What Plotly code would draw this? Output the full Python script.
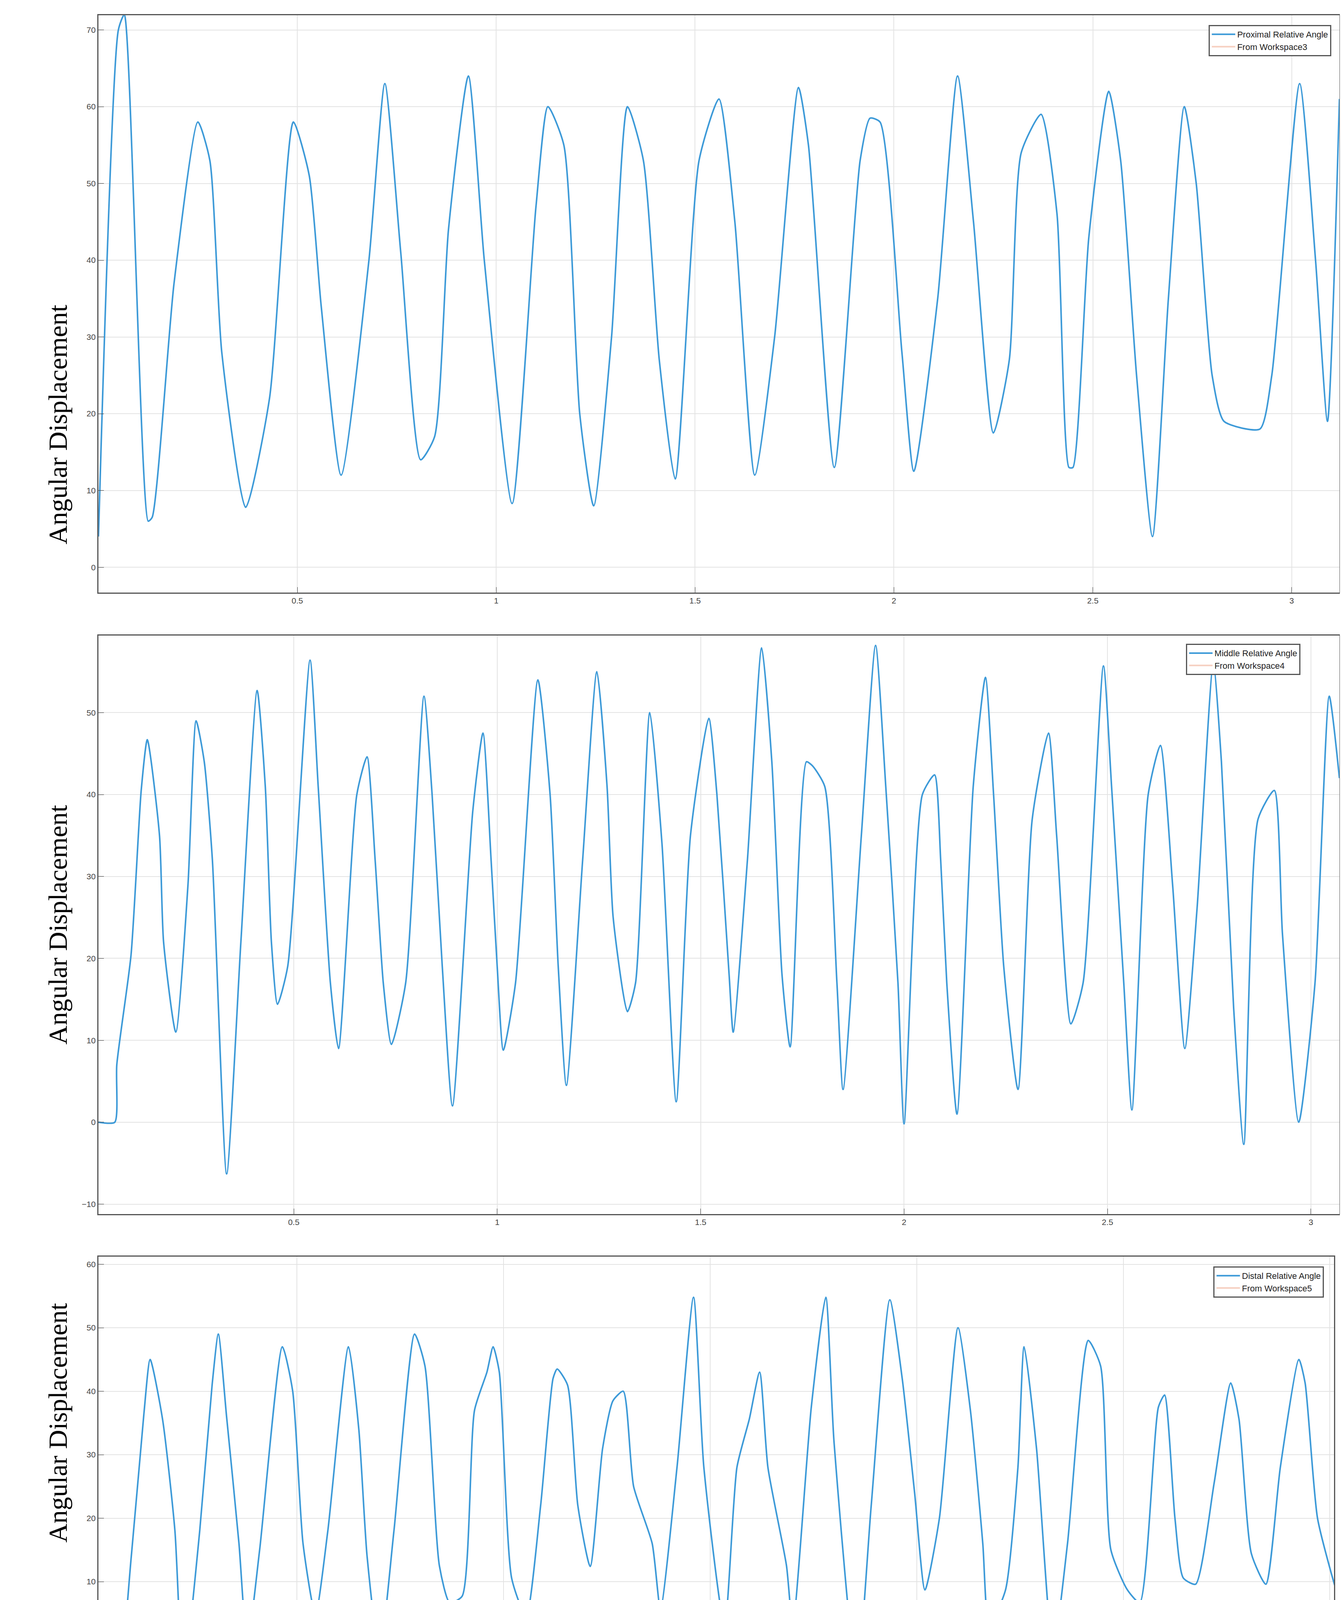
import plotly.graph_objects as go

# Panel 1: Proximal
t1 = [0, 0.05, 0.065, 0.125, 0.135, 0.19, 0.25, 0.28, 0.31, 0.37, 0.43, 0.49, 0.53, 0.56, 0.61, 0.68, 0.72, 0.76, 0.81, 0.845, 0.88, 0.93, 0.97, 1.04, 1.1, 1.13, 1.17, 1.21, 1.245, 1.29, 1.33, 1.37, 1.41, 1.45, 1.51, 1.56, 1.60, 1.65, 1.70, 1.76, 1.785, 1.85, 1.915, 1.94, 1.965, 2.02, 2.05, 2.11, 2.16, 2.20, 2.25, 2.29, 2.32, 2.37, 2.41, 2.44, 2.45, 2.49, 2.54, 2.57, 2.61, 2.65, 2.69, 2.73, 2.76, 2.80, 2.83, 2.92, 2.95, 3.02, 3.06, 3.09, 3.12]
v1 = [4, 70, 72, 6, 6.5, 37, 58, 53, 28, 7.8, 22, 58, 51, 34, 12, 40, 63, 41, 14, 17, 44, 64, 40, 8.3, 47, 60, 55, 20, 8, 30, 60, 53, 27, 11.5, 53, 61, 45, 12, 30, 62.5, 55, 13, 53, 58.5, 58, 28, 12.5, 35, 64, 45, 17.5, 27, 54, 59, 46, 13, 13, 43, 62, 53, 25, 4, 35, 60, 50, 25, 19, 18, 25, 63, 40, 19, 61]

# Panel 2: Middle
t2 = [0.02, 0.06, 0.065, 0.10, 0.125, 0.14, 0.17, 0.18, 0.21, 0.24, 0.26, 0.28, 0.30, 0.335, 0.37, 0.41, 0.43, 0.445, 0.46, 0.485, 0.54, 0.56, 0.59, 0.61, 0.655, 0.68, 0.70, 0.72, 0.74, 0.775, 0.82, 0.84, 0.865, 0.89, 0.94, 0.965, 0.985, 1.0, 1.015, 1.045, 1.1, 1.13, 1.15, 1.17, 1.21, 1.245, 1.27, 1.285, 1.32, 1.34, 1.375, 1.405, 1.44, 1.475, 1.52, 1.54, 1.57, 1.58, 1.615, 1.65, 1.675, 1.70, 1.72, 1.76, 1.775, 1.805, 1.835, 1.85, 1.895, 1.93, 1.955, 1.985, 2.0, 2.045, 2.075, 2.09, 2.105, 2.13, 2.17, 2.20, 2.22, 2.245, 2.28, 2.315, 2.355, 2.375, 2.41, 2.44, 2.49, 2.51, 2.54, 2.56, 2.60, 2.63, 2.66, 2.69, 2.72, 2.76, 2.78, 2.81, 2.835, 2.87, 2.91, 2.93, 2.97, 3.01, 3.045, 3.07]
v2 = [0, 0, 7, 20.4, 40.5, 46.7, 35, 22, 11, 29, 49, 44, 32, -6.3, 22, 52.7, 41, 22, 14.4, 19, 56.4, 41, 17, 9, 40, 44.6, 32, 17, 9.5, 17, 52, 40, 19, 2, 38, 47.5, 32, 19, 8.8, 17, 54, 40, 19, 4.5, 32, 55, 41, 25, 13.5, 17, 50, 34, 2.5, 35, 49.3, 40, 18, 11, 32, 57.9, 44, 18, 9.2, 44, 43.5, 41, 17, 4, 35, 58.2, 41, 17, -0.2, 40, 42.4, 32, 17, 1, 41, 54.3, 40, 19, 4, 37, 47.5, 35, 12, 17, 55.7, 41, 17, 1.5, 40, 46, 29, 9, 26, 56, 44, 14, -2.7, 37, 40.5, 23, 0, 17, 52, 42]

# Panel 3: Distal
t3 = [0.02, 0.062, 0.10, 0.13, 0.145, 0.175, 0.205, 0.225, 0.265, 0.295, 0.31, 0.33, 0.36, 0.38, 0.41, 0.465, 0.49, 0.515, 0.545, 0.575, 0.625, 0.65, 0.67, 0.70, 0.735, 0.785, 0.81, 0.845, 0.87, 0.90, 0.93, 0.96, 0.975, 0.99, 1.02, 1.055, 1.09, 1.12, 1.13, 1.155, 1.18, 1.21, 1.24, 1.265, 1.29, 1.315, 1.36, 1.38, 1.42, 1.46, 1.485, 1.535, 1.565, 1.595, 1.62, 1.64, 1.685, 1.70, 1.745, 1.78, 1.80, 1.855, 1.89, 1.935, 1.965, 1.995, 2.02, 2.055, 2.1, 2.13, 2.16, 2.175, 2.215, 2.245, 2.26, 2.29, 2.33, 2.365, 2.415, 2.445, 2.47, 2.51, 2.54, 2.585, 2.60, 2.625, 2.645, 2.675, 2.72, 2.76, 2.78, 2.81, 2.845, 2.88, 2.925, 2.94, 2.97, 3.015, 3.03]
v3 = [-2, -8.3, 14.4, 36.5, 45, 35.6, 18, -5.2, 18, 41, 49, 36, 16, 0, 15, 47, 40, 16, 4.8, 18, 47, 34, 14, -1.5, 18, 49, 44, 12.5, 6.7, 7.7, 37, 43, 47, 43, 10.5, 4.5, 22, 42, 43.5, 41, 22, 12.4, 31, 38.5, 40, 25, 16, 5.7, 28, 54.8, 28, 3, 28, 35.6, 43, 28, 12.5, 3, 37.5, 54.8, 32, -5.2, 22, 54.4, 42, 24, 8.7, 20, 50, 37, 16, 3, 8.7, 28, 47, 31, -1, 16, 48, 44, 15, 8.7, 6.7, 37.5, 39.4, 20, 10.6, 9.6, 25.6, 41.3, 35.6, 14.4, 9.6, 28, 45, 41.3, 20, 8.7, 6]

series_names = ["Proximal Relative Angle", "Middle Relative Angle", "Distal Relative Angle"]
ws_names = ["From Workspace3", "From Workspace4", "From Workspace5"]
y_ranges = [[-3.3, 71.9], [-11.2, 59.4], [-29.2, 61.2]]
x_ranges = [[0, 3.12], [0.02, 3.07], [0.02, 3.01]]
y_domains = [[0.6904, 0.9936], [0.3640, 0.6678], [0.0402, 0.3416]]
x_domains = [[0.071, 0.995], [0.071, 0.995], [0.071, 0.991]]
legend_pos = [(0.989, 0.9885), (0.966, 0.6635), (0.9835, 0.3365)]
ys_ticks = [[0, 10, 20, 30, 40, 50, 60, 70], [-10, 0, 10, 20, 30, 40, 50], [-20, -10, 0, 10, 20, 30, 40, 50, 60]]
x_ticks = [0.5, 1, 1.5, 2, 2.5, 3]
x_ticklabels = ["0.5", "1", "1.5", "2", "2.5", "3"]

fig = go.Figure()
data = [(t1, v1), (t2, v2), (t3, v3)]
for i, (t, v) in enumerate(data):
    sfx = "" if i == 0 else str(i + 1)
    lg = "legend" if i == 0 else "legend" + str(i + 1)
    fig.add_trace(go.Scatter(x=t, y=v, mode="lines", name=series_names[i],
                             line=dict(color="#3d9ad8", width=4, shape="spline", smoothing=0.6),
                             xaxis="x" + sfx, yaxis="y" + sfx, legend=lg))
    fig.add_trace(go.Scatter(x=[None], y=[None], mode="lines", name=ws_names[i],
                             line=dict(color="#f6cfc0", width=4),
                             xaxis="x" + sfx, yaxis="y" + sfx, legend=lg))
    axcommon = dict(showline=True, linecolor="#555555", linewidth=3, mirror=True,
                    showgrid=True, gridcolor="#e3e3e3", gridwidth=2, zeroline=False,
                    ticks="inside", ticklen=14, tickcolor="#333333",
                    tickfont=dict(family="Liberation Sans, Arial", size=21, color="#444444"))
    fig.layout["xaxis" + sfx] = dict(domain=x_domains[i], range=x_ranges[i],
                                     anchor="y" + sfx, tickvals=x_ticks,
                                     ticktext=x_ticklabels, **axcommon)
    fig.layout["yaxis" + sfx] = dict(domain=y_domains[i], range=y_ranges[i],
                                     anchor="x" + sfx, tickvals=ys_ticks[i], **axcommon)
    fig.layout[lg] = dict(x=legend_pos[i][0], y=legend_pos[i][1], xanchor="right", yanchor="top",
                          bgcolor="white", bordercolor="#555555", borderwidth=3,
                          font=dict(family="Liberation Sans, Arial", size=22, color="#222222"),
                          itemwidth=60, tracegroupgap=0)
    fig.add_annotation(text="Angular Displacement", textangle=-90, xref="paper", yref="paper",
                       x=0.029, y=(y_domains[i][0] + y_domains[i][1]) / 2, showarrow=False,
                       font=dict(family="Liberation Serif, Times New Roman", size=68, color="black"))

fig.add_annotation(text="Time (s)", xref="paper", yref="paper", x=0.56, y=0.006,
                   showarrow=False, yanchor="middle",
                   font=dict(family="Liberation Serif, Times New Roman", size=68, color="black"))

fig.update_layout(width=3438, height=4874, margin=dict(l=0, r=0, t=0, b=0),
                  paper_bgcolor="white", plot_bgcolor="white", showlegend=True)
fig.write_html("out.html")
